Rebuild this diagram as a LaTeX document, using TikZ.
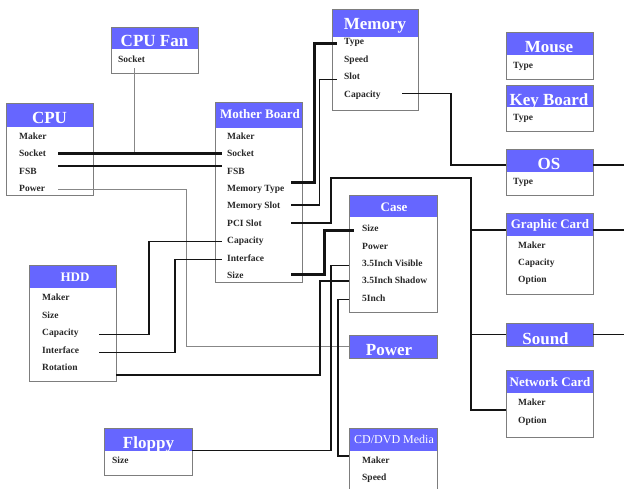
\documentclass[tikz,border=0pt]{standalone}
\usepackage{fontspec}
\setmainfont{Liberation Serif}
\definecolor{hdr}{RGB}{102,102,255}
\definecolor{bdr}{RGB}{125,125,125}
\definecolor{itm}{RGB}{40,40,40}
\definecolor{ln}{RGB}{20,20,20}
\definecolor{gln}{RGB}{135,135,135}
\tikzset{
 box/.style={draw=bdr, line width=0.9pt, anchor=north west, inner sep=0pt, outer sep=0pt},
 hdrbox/.style={fill=hdr, anchor=north west, inner sep=0pt, outer sep=0pt},
 bigtitle/.style={text=white, font=\fontsize{17}{17}\selectfont\bfseries, anchor=base, inner sep=0pt},
 smalltitle/.style={text=white, font=\fontsize{13}{13}\selectfont\bfseries, anchor=base, inner sep=0pt},
 item/.style={text=itm, font=\fontsize{9.5}{9.5}\selectfont\bfseries, anchor=base west, inner sep=0pt},
 thickln/.style={draw=ln, line width=3pt},
 medln/.style={draw=ln, line width=1.4pt},
 thinln/.style={draw=gln, line width=1pt},
}
\begin{document}
\begin{tikzpicture}[x=1pt,y=-1pt]
\useasboundingbox (0,0) rectangle (624,489);
\clip (0,0) rectangle (624,489);

% ---------- headers ----------
\node[hdrbox, minimum width=87pt, minimum height=22pt] (fan-h) at (111,27) {};
\node[hdrbox, minimum width=87pt, minimum height=24pt] (cpu-h) at (6,103) {};
\node[hdrbox, minimum width=87pt, minimum height=26pt] (mb-h) at (215,102) {};
\node[hdrbox, minimum width=86pt, minimum height=28pt] (mem-h) at (332,9) {};
\node[hdrbox, minimum width=87pt, minimum height=23pt] (mouse-h) at (506,32) {};
\node[hdrbox, minimum width=87pt, minimum height=22pt] (kb-h) at (506,85) {};
\node[hdrbox, minimum width=87pt, minimum height=23pt] (os-h) at (506,149) {};
\node[hdrbox, minimum width=87pt, minimum height=23pt] (gc-h) at (506,213) {};
\node[hdrbox, minimum width=87pt, minimum height=23pt] (sound-h) at (506,323) {};
\node[hdrbox, minimum width=87pt, minimum height=23pt] (net-h) at (506,370) {};
\node[hdrbox, minimum width=88pt, minimum height=22pt] (case-h) at (349,195) {};
\node[hdrbox, minimum width=88pt, minimum height=23pt] (power-h) at (349,335) {};
\node[hdrbox, minimum width=87pt, minimum height=23pt] (hdd-h) at (29,265) {};
\node[hdrbox, minimum width=88pt, minimum height=23pt] (floppy-h) at (104,428) {};
\node[hdrbox, minimum width=88pt, minimum height=23pt] (cd-h) at (349,428) {};

% ---------- boxes ----------
\node[box, minimum width=87pt, minimum height=46pt] (fan) at (111,27) {};
\node[box, minimum width=87pt, minimum height=92pt] (cpu) at (6,103) {};
\node[box, minimum width=87pt, minimum height=180pt] (mb) at (215,102) {};
\node[box, minimum width=86pt, minimum height=101pt] (mem) at (332,9) {};
\node[box, minimum width=87pt, minimum height=47pt] (mouse) at (506,32) {};
\node[box, minimum width=87pt, minimum height=46pt] (kb) at (506,85) {};
\node[box, minimum width=87pt, minimum height=46pt] (os) at (506,149) {};
\node[box, minimum width=87pt, minimum height=81pt] (gc) at (506,213) {};
\node[box, minimum width=87pt, minimum height=23pt] (sound) at (506,323) {};
\node[box, minimum width=87pt, minimum height=67pt] (net) at (506,370) {};
\node[box, minimum width=88pt, minimum height=117pt] (case) at (349,195) {};
\node[box, minimum width=88pt, minimum height=23pt] (power) at (349,335) {};
\node[box, minimum width=87pt, minimum height=116pt] (hdd) at (29,265) {};
\node[box, minimum width=88pt, minimum height=47pt] (floppy) at (104,428) {};
\node[box, minimum width=88pt, minimum height=80pt] (cd) at (349,428) {};

% ---------- titles ----------
\node[bigtitle] (fan-t) at (154.5,46.7) {CPU Fan};
\node[bigtitle] (cpu-t) at (49.5,123.3) {CPU};
\node[smalltitle] (mb-t) at (260,118.3) {Mother Board};
\node[bigtitle] (mem-t) at (375,30) {Memory};
\node[bigtitle] (mouse-t) at (549,52.7) {Mouse};
\node[bigtitle] (kb-t) at (549,105.3) {Key Board};
\node[bigtitle] (os-t) at (549,169.3) {OS};
\node[smalltitle] (gc-t) at (550,229) {Graphic Card};
\node[bigtitle] (sound-t) at (545.5,344) {Sound};
\node[smalltitle] (net-t) at (550,386) {Network Card};
\node[smalltitle] (case-t) at (394,211.7) {Case};
\node[bigtitle] (power-t) at (389,355.7) {Power};
\node[smalltitle] (hdd-t) at (75,281.7) {HDD};
\node[bigtitle] (floppy-t) at (148.5,448.3) {Floppy};
\node[smalltitle, font=\fontsize{12}{12}\selectfont] (cd-t) at (394,443.3) {CD/DVD Media};

% ---------- items ----------
\node[item] (fan-socket) at (118,62.7) {Socket};

\node[item] (cpu-maker) at (19,139.3) {Maker};
\node[item] (cpu-socket) at (19,156.7) {Socket};
\node[item] (cpu-fsb) at (19,174.1) {FSB};
\node[item] (cpu-power) at (19,191.5) {Power};

\node[item] (mb-maker) at (227,139.3) {Maker};
\node[item] (mb-socket) at (227,156.7) {Socket};
\node[item] (mb-fsb) at (227,174.1) {FSB};
\node[item] (mb-memtype) at (227,191.5) {Memory Type};
\node[item] (mb-memslot) at (227,208.9) {Memory Slot};
\node[item] (mb-pci) at (227,226.3) {PCI Slot};
\node[item] (mb-cap) at (227,243.7) {Capacity};
\node[item] (mb-if) at (227,261.1) {Interface};
\node[item] (mb-size) at (227,278.5) {Size};

\node[item] (mem-type) at (344,45) {Type};
\node[item] (mem-speed) at (344,62.4) {Speed};
\node[item] (mem-slot) at (344,79.8) {Slot};
\node[item] (mem-cap) at (344,97.2) {Capacity};

\node[item] (mouse-type) at (513,68.7) {Type};
\node[item] (kb-type) at (513,120.7) {Type};
\node[item] (os-type) at (513,185) {Type};

\node[item] (gc-maker) at (518,248.3) {Maker};
\node[item] (gc-cap) at (518,265.7) {Capacity};
\node[item] (gc-opt) at (518,283) {Option};

\node[item] (net-maker) at (518,405.7) {Maker};
\node[item] (net-opt) at (518,423) {Option};

\node[item] (case-size) at (362,231.7) {Size};
\node[item] (case-power) at (362,249.1) {Power};
\node[item] (case-vis) at (362,266.5) {3.5Inch Visible};
\node[item] (case-sha) at (362,283.9) {3.5Inch Shadow};
\node[item] (case-5) at (362,301.3) {5Inch};

\node[item] (hdd-maker) at (42,301) {Maker};
\node[item] (hdd-size) at (42,318.4) {Size};
\node[item] (hdd-cap) at (42,335.8) {Capacity};
\node[item] (hdd-if) at (42,353.2) {Interface};
\node[item] (hdd-rot) at (42,370.6) {Rotation};

\node[item] (floppy-size) at (112,463.3) {Size};

\node[item] (cd-maker) at (362,463.3) {Maker};
\node[item] (cd-speed) at (362,480.7) {Speed};

% ---------- ports ----------
\coordinate (pcpuSock) at (58,153.3);
\coordinate (pmbSock) at (222,153.3);
\coordinate (pcpuFsb) at (58,166);
\coordinate (pmbFsb) at (222,166);
\coordinate (pfanSock) at (134,68);
\coordinate (pcpuPow) at (58,190);
\coordinate (pmbMemT) at (291,183);
\coordinate (pmemType) at (337,44);
\coordinate (pmbMemS) at (291,205);
\coordinate (pmemSlot) at (337,79.3);
\coordinate (pmbPci) at (291,223);
\coordinate (pmemCap) at (402,93.5);
\coordinate (pos) at (506,165);
\coordinate (pgc) at (506,230);
\coordinate (pnet) at (506,410);
\coordinate (pmbCap) at (222,241.7);
\coordinate (pmbIf) at (222,259.3);
\coordinate (phddCap) at (99.3,334.3);
\coordinate (phddIf) at (99.3,352.3);
\coordinate (phddRot) at (116,375);
\coordinate (pmbSize) at (291,275);
\coordinate (pcaseSize) at (354,230.7);
\coordinate (pcaseVis) at (349,265.3);
\coordinate (pcaseSha) at (349,281);
\coordinate (pcase5) at (349,299.3);
\coordinate (pfloppy) at (192,450.5);
\coordinate (pcd) at (349,456);
\coordinate (ppower) at (349,346);

% ---------- connectors ----------
\draw[thinln] (pfanSock) -- (pfanSock |- pcpuSock);
\draw[thinln] (pcpuPow) -- (186,190) |- (ppower);
\draw[thickln] (pcpuSock) -- (pmbSock);
\draw[medln] (pcpuFsb) -- (pmbFsb);
\draw[thickln] (pmbMemT) -- (314,183) |- (pmemType);
\draw[medln] (pmbMemS) -- (319.5,205) |- (pmemSlot);
\draw[medln] (pmbPci) -- (331,223) |- (471,178) |- (pnet);
\draw[medln] (471,230) -- (pgc);
\draw[medln] (471,334.5) -- (sound.west);
\draw[medln] (pmemCap) -- (451,93.5) |- (pos);
\draw[medln] (os.east |- pos) -- (624,165);
\draw[medln] (gc.east |- pgc) -- (624,230);
\draw[medln] (sound.east) -- (624,334.5);
\draw[medln] (phddCap) -- (149,334.3) |- (pmbCap);
\draw[medln] (phddIf) -- (175,352.3) |- (pmbIf);
\draw[medln] (phddRot) -- (320,375) |- (pcaseSha);
\draw[thickln] (pmbSize) -- (324.3,275) |- (pcaseSize);
\draw[medln] (pcaseVis) -- (331,265.3) |- (pfloppy);
\draw[medln] (pcase5) -- (338,299.3) |- (pcd);
\end{tikzpicture}
\end{document}
